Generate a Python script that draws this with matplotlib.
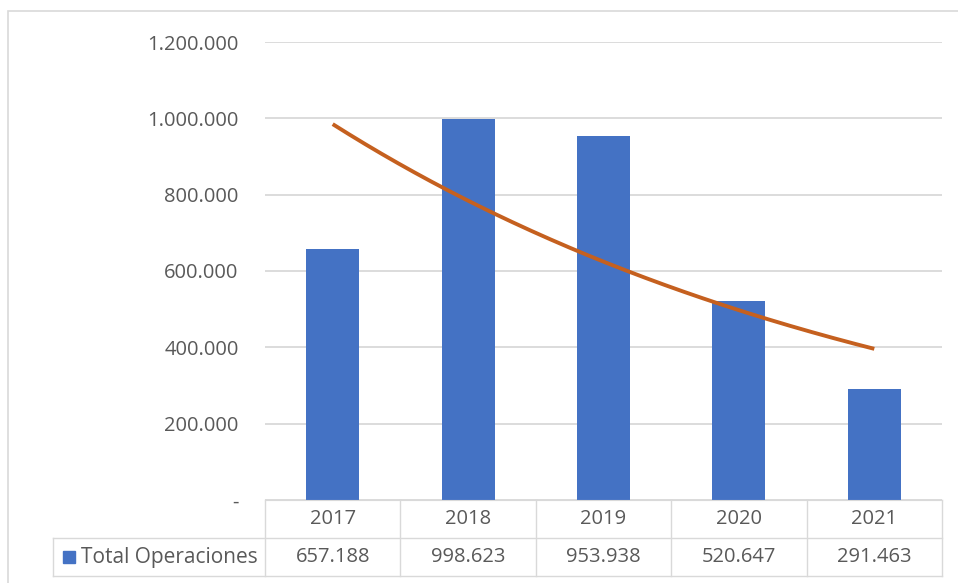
import numpy as np
import matplotlib
matplotlib.use('Agg')
from matplotlib import pyplot as plt
from matplotlib.patches import Rectangle

years = ['2017', '2018', '2019', '2020', '2021']
operaciones = [657188, 998623, 953938, 520647, 291463]
serie = 'Total Operaciones'
yticks = [0, 200000, 400000, 600000, 800000, 1000000, 1200000]

def fmt(v):
    # formato contable de Excel: separador de miles con punto, cero como guion
    if v == 0:
        return '-'
    return '{:,}'.format(v).replace(',', '.')

plt.rcParams['font.family'] = ['Open Sans', 'DejaVu Sans']
txt = '#595959'
grid = '#D9D9D9'
fs = 14.5

W, H = 958, 583
fig = plt.figure(figsize=(W / 100, H / 100), dpi=100)
# area de trazado en pixeles: x 265-942, y 42-500
pw, ph = 942 - 265, 500 - 42
ax = fig.add_axes([265 / W, 1 - 500 / H, pw / W, ph / H])

x = np.arange(len(years))
ax.bar(x, operaciones, width=0.39, color='#4472C4', zorder=2)

# linea de tendencia exponencial (como la de Excel)
b, a = np.polyfit(x, np.log(operaciones), 1)
xs = np.linspace(0, len(years) - 1, 200)
ax.plot(xs, np.exp(a + b * xs), color='#C5601F', lw=2.8, zorder=3,
        solid_capstyle='butt')

ax.set_xlim(-0.5, len(years) - 0.5)
ax.set_ylim(0, 1200000)
ax.set_yticks(yticks)
ax.set_yticklabels([fmt(v) for v in yticks])
ax.yaxis.grid(True, color=grid, lw=1.3, zorder=0)
ax.set_xticks([])
ax.tick_params(axis='y', length=0, pad=19, labelsize=fs, labelcolor=txt)
for s in ['top', 'left', 'right']:
    ax.spines[s].set_visible(False)
ax.spines['bottom'].set_color(grid)

# tabla de datos debajo del grafico
tr = ax.get_xaxis_transform()
col_px = pw / len(years)
x_left = -0.5 - (265 - 53) / col_px   # borde izquierdo de la columna de leyenda
y_mid = -38 / ph
y_bot = -76 / ph
x_end = len(years) - 0.5
kw = dict(transform=tr, color=grid, lw=1.0, clip_on=False)
ax.plot([x_left, x_end], [y_mid, y_mid], **kw)
ax.plot([x_left, x_end], [y_bot, y_bot], **kw)
ax.plot([x_left, x_left], [y_mid, y_bot], **kw)
for xv in np.arange(len(years) + 1) - 0.5:
    ax.plot([xv, xv], [0, y_bot], **kw)
for i, (yr, v) in enumerate(zip(years, operaciones)):
    ax.text(i, y_mid / 2, yr, transform=tr, ha='center', va='center',
            fontsize=fs, color=txt)
    ax.text(i, (y_mid + y_bot) / 2, fmt(v), transform=tr, ha='center',
            va='center', fontsize=fs, color=txt)
fig.text(81 / W, 1 - 557 / H, serie, ha='left', va='center',
         fontsize=15, color=txt)

# cuadrado de leyenda
fig.patches.append(Rectangle((63 / W, 1 - 563 / H), 12 / W, 12 / H,
                             transform=fig.transFigure, color='#4472C4'))

# borde exterior del grafico
fig.patches.append(Rectangle((8 / W, -0.01), 1.0, 1 - 11 / H + 0.01,
                             transform=fig.transFigure, fill=False,
                             edgecolor='#D9D9D9', lw=1.2))

fig.savefig('out.png', dpi=100)
